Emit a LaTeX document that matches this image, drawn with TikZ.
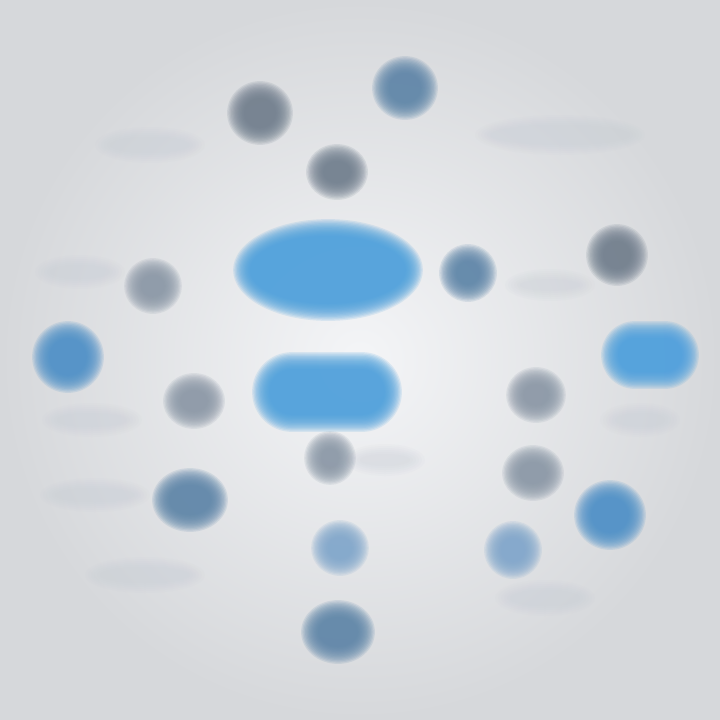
\documentclass[tikz,border=0pt]{standalone}
\usetikzlibrary{shapes.misc}
\definecolor{bgin}{HTML}{F4F5F7}
\definecolor{bgout}{HTML}{D6D8DB}
\definecolor{mainblue}{HTML}{4A9FDC}
\definecolor{midblue}{HTML}{4B8FC8}
\definecolor{slate}{HTML}{6F7D8C}
\definecolor{slatel}{HTML}{8A97A6}
\definecolor{steel}{HTML}{5C84A8}
\definecolor{paleblue}{HTML}{7FA6CC}
\definecolor{smudge}{HTML}{C4CAD3}
\newcommand\softblob[5]{%
  \foreach \k in {0,...,13}{%
    \fill[#5, opacity=0.15] (#1,#2) ellipse ({#3-4+(13-\k)*1.3} and {#4-4+(13-\k)*1.3});%
  }}
\newcommand\softbox[5]{%
  \foreach \k in {0,...,13}{%
    \fill[#5, opacity=0.15, rounded corners={#4-4+(13-\k)*1.3}]
      ({#1-#3+4-(13-\k)*1.3},{#2-#4+4-(13-\k)*1.3}) rectangle ({#1+#3-4+(13-\k)*1.3},{#2+#4-4+(13-\k)*1.3});%
  }}
\newcommand\smudge[4]{%
  \foreach \k in {0,...,5}{%
    \fill[smudge, opacity=0.07] (#1,#2) ellipse ({#3+(5-\k)*3} and {#4+(5-\k)*2});%
  }}
\begin{document}
\begin{tikzpicture}[x=1pt,y=-1pt]
\useasboundingbox (0,0) rectangle (720,720);
\shade[inner color=bgin, outer color=bgout] (0,0) rectangle (720,720);
% faint text smudges
\smudge{150}{145}{40}{8}
\smudge{560}{135}{70}{10}
\smudge{80}{272}{30}{7}
\smudge{92}{420}{35}{7}
\smudge{95}{495}{40}{7}
\smudge{145}{575}{45}{8}
\smudge{545}{598}{35}{8}
\smudge{550}{285}{30}{6}
\smudge{640}{420}{25}{7}
\smudge{385}{460}{25}{6}
% central shapes
\softblob{328}{270}{82}{38}{mainblue}
\softbox{327}{392}{62}{27}{mainblue}
% satellites
\softblob{260}{113}{20}{19}{slate}
\softblob{405}{88}{20}{19}{steel}
\softblob{337}{172}{18}{15}{slate}
\softblob{153}{286}{16}{15}{slatel}
\softblob{468}{273}{16}{16}{steel}
\softblob{617}{255}{18}{18}{slate}
\softblob{68}{357}{23}{23}{midblue}
\softbox{650}{355}{36}{21}{mainblue}
\softblob{194}{401}{18}{15}{slatel}
\softblob{536}{395}{17}{15}{slatel}
\softblob{330}{458}{13}{14}{slatel}
\softblob{190}{500}{25}{19}{steel}
\softblob{533}{473}{18}{15}{slatel}
\softblob{610}{515}{23}{22}{midblue}
\softblob{340}{548}{16}{15}{paleblue}
\softblob{513}{550}{16}{16}{paleblue}
\softblob{338}{632}{24}{19}{steel}
\end{tikzpicture}
\end{document}
